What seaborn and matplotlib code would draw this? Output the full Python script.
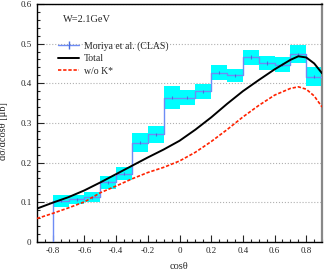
import numpy as np
import pandas as pd
import seaborn as sns
import matplotlib.pyplot as plt
from matplotlib.lines import Line2D
from matplotlib.ticker import MultipleLocator

# CLAS data (Moriya et al.), bins of width 0.1
bin_lo = [-0.8, -0.7, -0.6, -0.5, -0.4, -0.3, -0.2, -0.1, 0.0,
          0.1, 0.2, 0.3, 0.4, 0.5, 0.6, 0.7, 0.8]
moriya = [0.104, 0.107, 0.113, 0.150, 0.172, 0.250, 0.271, 0.364, 0.364,
          0.380, 0.427, 0.420, 0.466, 0.451, 0.447, 0.473, 0.416]
sys_err = [0.015, 0.011, 0.013, 0.017, 0.017, 0.024, 0.021, 0.029, 0.019,
           0.019, 0.019, 0.016, 0.019, 0.017, 0.018, 0.023, 0.024]
stat_err = [0.004] * 17

# model curves
cos_pts = [-0.9, -0.8, -0.7, -0.6, -0.5, -0.4, -0.3, -0.2, -0.1, 0.0, 0.1,
           0.2, 0.3, 0.4, 0.5, 0.6, 0.7, 0.75, 0.8, 0.85, 0.9]
total = [0.084, 0.099, 0.113, 0.130, 0.150, 0.171, 0.192, 0.213, 0.233, 0.255, 0.283,
         0.314, 0.348, 0.380, 0.408, 0.435, 0.459, 0.468, 0.465, 0.450, 0.425]
no_kstar = [0.059, 0.072, 0.086, 0.101, 0.124, 0.141, 0.159, 0.175, 0.188, 0.204, 0.226,
            0.253, 0.283, 0.315, 0.344, 0.370, 0.387, 0.391, 0.385, 0.368, 0.340]

sns.set_theme(style="ticks")
plt.rcParams['font.family'] = ['Liberation Serif', 'DejaVu Serif']
plt.rcParams['axes.unicode_minus'] = False

fig = plt.figure(figsize=(3.27, 2.80), dpi=100)
ax = fig.add_axes([0.113, 0.136, 0.872, 0.850])

lo = np.array(bin_lo)
val = np.array(moriya)
err = np.array(sys_err)

# systematic boxes
ax.bar(lo, 2 * err, bottom=val - err, width=0.1, align='edge',
       color='#00ffff', edgecolor='none', zorder=2)

# histogram step line
xs = np.concatenate([[lo[0]], lo, [0.9]])
ys = np.concatenate([[0.0], val, [val[-1]]])
ax.step(xs, ys, where='post', color='#6e8cf5', lw=1.0, zorder=3)
ax.errorbar(lo + 0.05, val, yerr=stat_err, fmt='none', ecolor='#4a6ee0',
            elinewidth=0.8, zorder=4)

curves = pd.DataFrame({'cos': cos_pts, 'Total': total, 'w/o K*': no_kstar})
sns.lineplot(data=curves, x='cos', y='Total', ax=ax, color='black', lw=1.4, zorder=5)
sns.lineplot(data=curves, x='cos', y='w/o K*', ax=ax, color='#ff2200', lw=1.2,
             linestyle=(0, (2.0, 1.1)), zorder=5)

ax.set_xlim(-0.9, 0.9)
ax.set_ylim(0, 0.6)
ax.xaxis.set_major_locator(MultipleLocator(0.2))
ax.xaxis.set_minor_locator(MultipleLocator(0.05))
ax.yaxis.set_major_locator(MultipleLocator(0.1))
ax.yaxis.set_minor_locator(MultipleLocator(0.02))
ax.xaxis.set_major_formatter(plt.FuncFormatter(lambda v, p: '0' if abs(v) < 1e-9 else f'{v:g}'))
ax.yaxis.set_major_formatter(plt.FuncFormatter(lambda v, p: '0' if abs(v) < 1e-9 else f'{v:g}'))
ax.tick_params(which='both', direction='in', labelsize=6.5, width=0.8, pad=4)
ax.tick_params(which='major', length=5)
ax.tick_params(which='minor', length=2.5)
ax.grid(axis='y', linestyle=':', color='#b0b0b0', lw=0.8)
ax.set_axisbelow(True)

for s in ['left', 'bottom', 'top']:
    ax.spines[s].set_color('black')
    ax.spines[s].set_linewidth(1.0)
ax.spines['right'].set_color('#888888')
ax.spines['right'].set_linewidth(1.6)

ax.set_xlabel('cosθ', fontsize=7.5)
ax.set_ylabel('dσ/dcosθ [μb]', fontsize=7.5)
ax.xaxis.set_label_coords(0.498, -0.085)
ax.yaxis.set_label_coords(-0.102, 0.466)

ax.text(0.09, 0.935, 'W=2.1GeV', transform=ax.transAxes, fontsize=7.5, va='center')

handles = [Line2D([], [], color='#6e8cf5', lw=1.0, marker='|', markersize=6,
                  markeredgecolor='#4a6ee0'),
           Line2D([], [], color='black', lw=1.4),
           Line2D([], [], color='#ff2200', lw=1.2, linestyle=(0, (2.0, 1.1)))]
ax.legend(handles, ['Moriya et al. (CLAS)', 'Total', 'w/o K*'], loc='upper left',
          bbox_to_anchor=(0.06, 0.86), frameon=False, fontsize=7,
          handlelength=2.2, handletextpad=0.5, labelspacing=0.35, borderaxespad=0)

fig.savefig('out.png', dpi=100)
